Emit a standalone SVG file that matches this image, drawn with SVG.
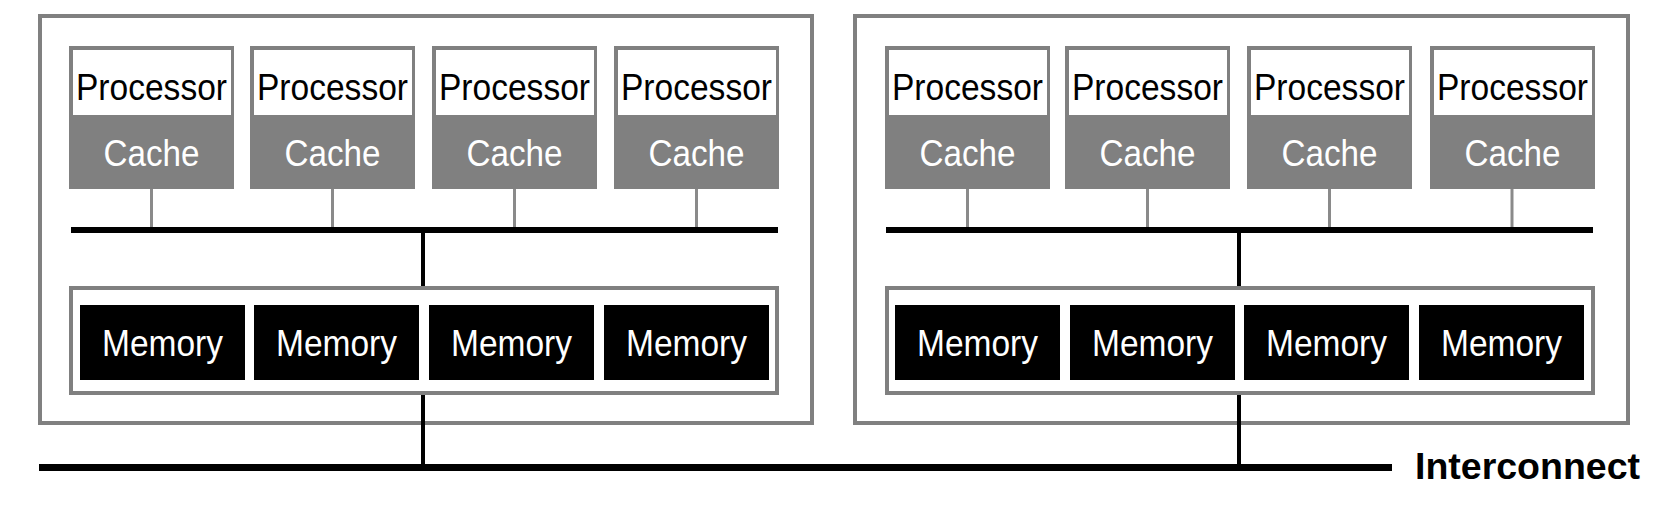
<svg xmlns="http://www.w3.org/2000/svg" width="1660" height="508" viewBox="0 0 1660 508">
<style>
.frame{fill:#ffffff;stroke:#808080;stroke-width:4}
.pc{fill:#808080}
.pw{fill:#ffffff}
.mem{fill:#000000}
.t{font-family:"Liberation Sans",Arial,sans-serif;font-size:36.5px;text-anchor:middle}
.tp{fill:#000000}
.tw{fill:#ffffff}
.bus{stroke:#000000;stroke-width:6;fill:none}
.ibus{stroke:#000000;stroke-width:7;fill:none}
.vl{stroke:#000000;stroke-width:4;fill:none}
.cl{stroke:#8a8a8a;stroke-width:3;fill:none}
.lbl{font-family:"Liberation Sans",Arial,sans-serif;font-size:37.5px;font-weight:bold;fill:#000000}
</style>
<defs>
<g id="proc">
<rect class="pc" x="0" y="0" width="165" height="143"/>
<rect class="pw" x="4" y="4" width="158" height="65"/>
<text class="t tp" x="82.5" y="54" textLength="151" lengthAdjust="spacingAndGlyphs">Processor</text>
<text class="t tw" x="82.5" y="119.5" textLength="96" lengthAdjust="spacingAndGlyphs">Cache</text>
</g>
<g id="memb">
<rect class="mem" x="0" y="0" width="165" height="75"/>
<text class="t tw" x="82.5" y="50.5" textLength="121" lengthAdjust="spacingAndGlyphs">Memory</text>
</g>
</defs>

<g id="node-left-group">
<rect class="frame" x="40" y="16" width="772" height="407"/>
</g>
<g id="node-right-group">
<rect class="frame" x="855" y="16" width="773" height="407"/>
</g>

<g id="connectors">
<line class="cl" x1="151.5" y1="189" x2="151.5" y2="228"/>
<line class="cl" x1="332.5" y1="189" x2="332.5" y2="228"/>
<line class="cl" x1="514.5" y1="189" x2="514.5" y2="228"/>
<line class="cl" x1="696.5" y1="189" x2="696.5" y2="228"/>
<line class="cl" x1="967.5" y1="189" x2="967.5" y2="228"/>
<line class="cl" x1="1147.5" y1="189" x2="1147.5" y2="228"/>
<line class="cl" x1="1329.5" y1="189" x2="1329.5" y2="228"/>
<line class="cl" x1="1512" y1="189" x2="1512" y2="228"/>
<line class="bus" x1="71" y1="230" x2="778" y2="230"/>
<line class="bus" x1="886" y1="230" x2="1593" y2="230"/>
<line class="vl" x1="423" y1="230" x2="423" y2="288"/>
<line class="vl" x1="423" y1="393" x2="423" y2="467"/>
<line class="vl" x1="1239" y1="230" x2="1239" y2="288"/>
<line class="vl" x1="1239" y1="393" x2="1239" y2="467"/>
<line class="ibus" x1="39" y1="467.5" x2="1392" y2="467.5"/>
</g>

<g id="node-proc-1"><use href="#proc" x="69" y="46"/></g>
<g id="node-proc-2"><use href="#proc" x="250" y="46"/></g>
<g id="node-proc-3"><use href="#proc" x="432" y="46"/></g>
<g id="node-proc-4"><use href="#proc" x="614" y="46"/></g>
<g id="node-proc-5"><use href="#proc" x="885" y="46"/></g>
<g id="node-proc-6"><use href="#proc" x="1065" y="46"/></g>
<g id="node-proc-7"><use href="#proc" x="1247" y="46"/></g>
<g id="node-proc-8"><use href="#proc" x="1430" y="46"/></g>

<g id="node-memory-left">
<rect class="frame" x="71" y="288" width="706" height="105"/>
<use href="#memb" x="80" y="305"/>
<use href="#memb" x="254" y="305"/>
<use href="#memb" x="429" y="305"/>
<use href="#memb" x="604" y="305"/>
</g>
<g id="node-memory-right">
<rect class="frame" x="887" y="288" width="706" height="105"/>
<use href="#memb" x="895" y="305"/>
<use href="#memb" x="1070" y="305"/>
<use href="#memb" x="1244" y="305"/>
<use href="#memb" x="1419" y="305"/>
</g>

<g id="node-interconnect-label">
<text class="lbl" x="1415" y="479">Interconnect</text>
</g>
</svg>
